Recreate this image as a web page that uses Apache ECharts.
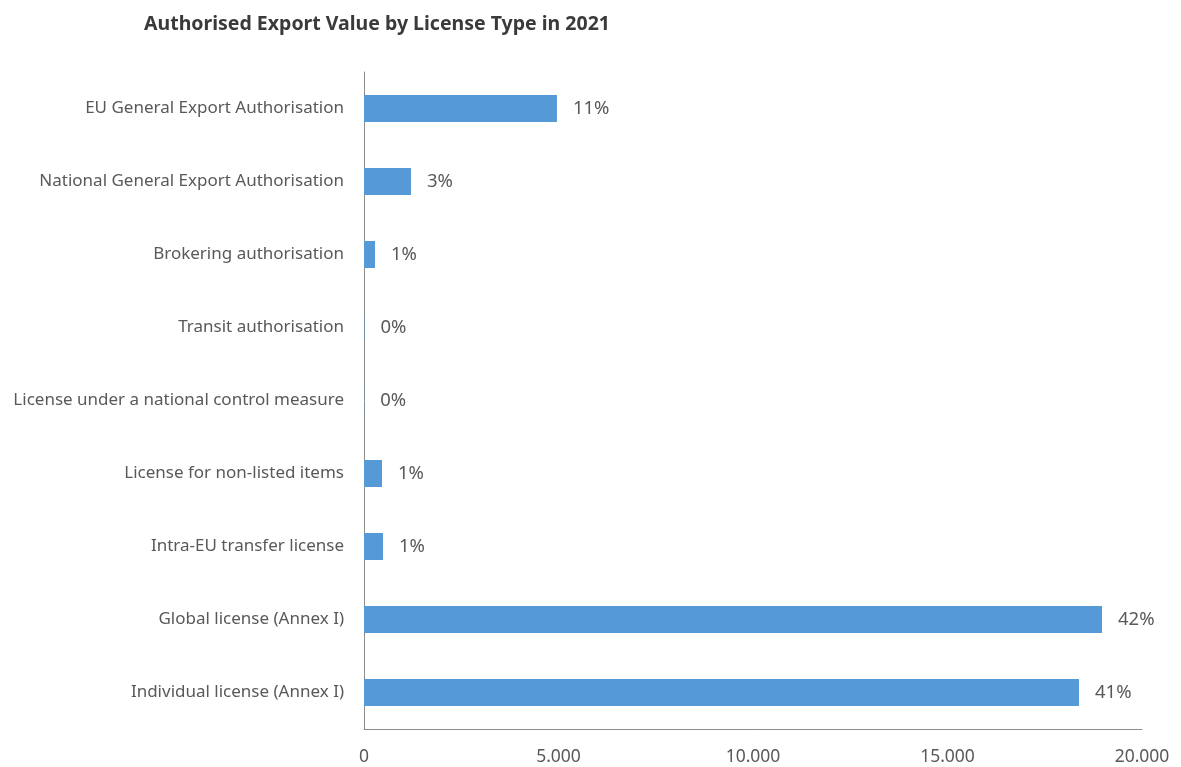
<!DOCTYPE html>
<html>
<head>
<meta charset="utf-8">
<script src="https://cdn.jsdelivr.net/npm/echarts@6/dist/echarts.min.js"></script>
<style>
html,body{margin:0;padding:0;background:#fff;}
#chart{width:1181px;height:767px;}
</style>
</head>
<body>
<div id="chart"></div>
<script>
// License types, listed bottom to top
const categories = [
  'Individual license (Annex I)',
  'Global license (Annex I)',
  'Intra-EU transfer license',
  'License for non-listed items',
  'License under a national control measure',
  'Transit authorisation',
  'Brokering authorisation',
  'National General Export Authorisation',
  'EU General Export Authorisation'
];
// Authorised export value (million EUR)
const values = [18380, 18972, 488, 463, 5, 10, 283, 1208, 4960];
const xTicks = [0, 5000, 10000, 15000, 20000];

const total = values.reduce((a, b) => a + b, 0);
const fmtThousands = v => String(v).replace(/\B(?=(\d{3})+(?!\d))/g, '.');

const chart = echarts.init(document.getElementById('chart'));
chart.setOption({
  animation: false,
  textStyle: { fontFamily: 'Noto Sans' },
  title: {
    text: 'Authorised Export Value by License Type in 2021',
    left: 139, top: 9,
    textStyle: { fontFamily: 'Noto Sans', fontSize: 19.5, fontWeight: 'bold', color: '#3a3a3a' }
  },
  grid: { left: 364, right: 39, top: 72, bottom: 38, containLabel: false },
  xAxis: {
    type: 'value',
    min: xTicks[0], max: xTicks[xTicks.length - 1], interval: 5000,
    axisLine: { show: true, lineStyle: { color: '#8c8c8c', width: 1 } },
    axisTick: { show: false },
    splitLine: { show: false },
    axisLabel: {
      margin: 19, fontSize: 17.5, color: '#595959',
      formatter: v => fmtThousands(v)
    }
  },
  yAxis: {
    type: 'category',
    data: categories,
    axisLine: { show: true, lineStyle: { color: '#8c8c8c', width: 1 } },
    axisTick: { show: false },
    axisLabel: { margin: 20, fontSize: 17, color: '#595959' }
  },
  series: [{
    type: 'bar',
    data: values,
    barWidth: 27,
    itemStyle: { color: '#559AD6' },
    label: {
      show: true, position: 'right', distance: 16,
      fontSize: 18.5, color: '#595959',
      formatter: p => Math.round(p.value / total * 100) + '%'
    }
  }]
});
</script>
</body>
</html>
